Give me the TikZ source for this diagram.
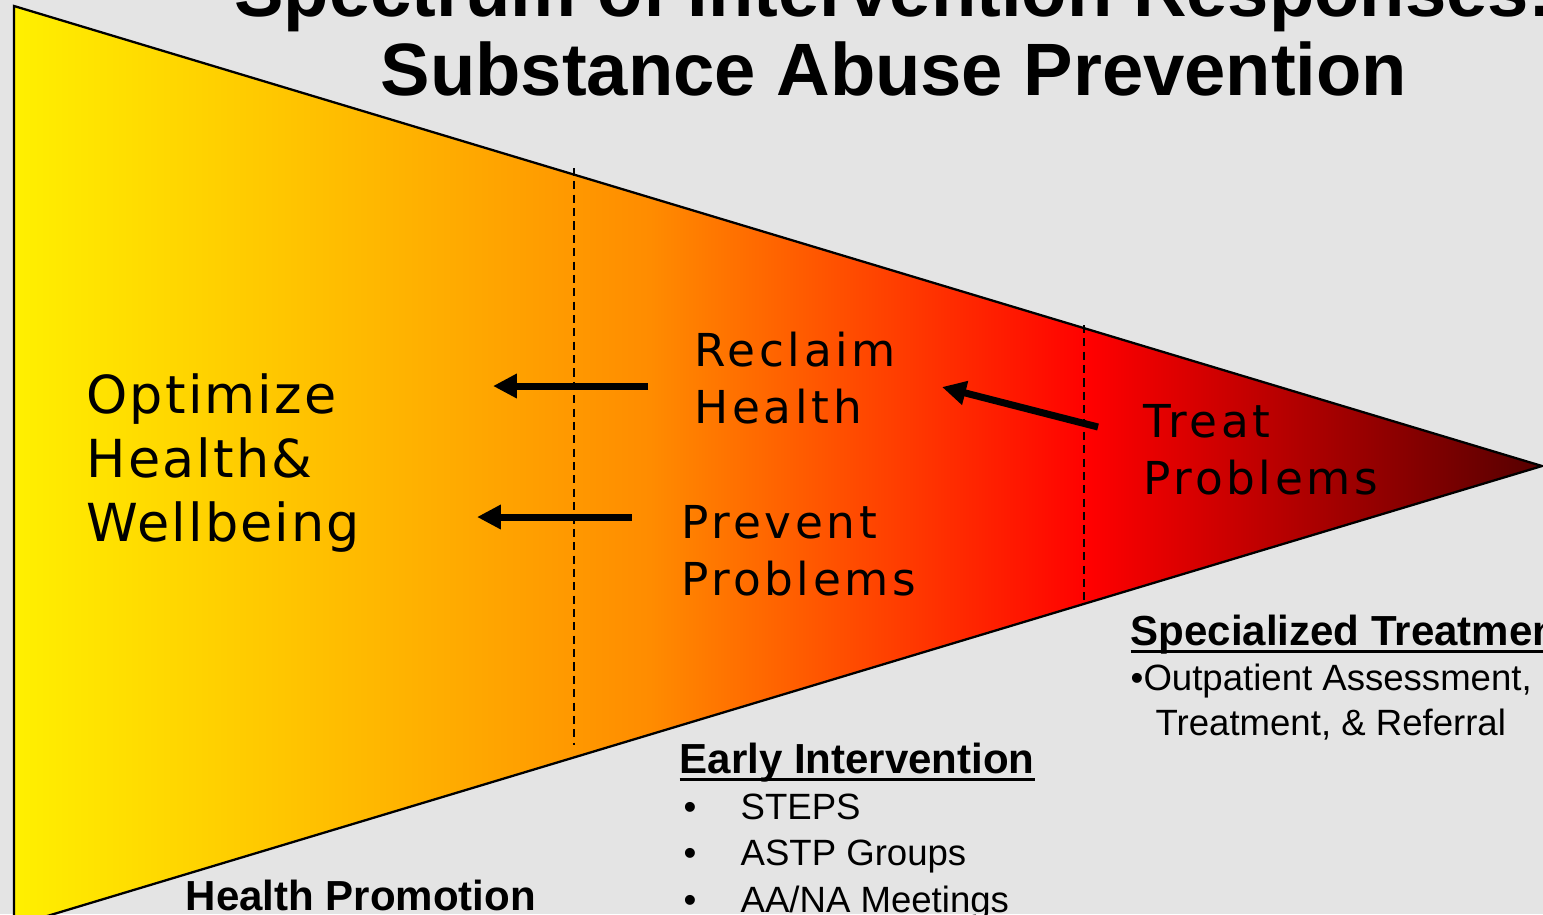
\documentclass[tikz,border=0pt]{standalone}
\usepackage{fontspec}
\setmainfont{Liberation Sans}
\newfontfamily\spanfont[LetterSpace=8]{DejaVu Sans}
\newfontfamily\spanfontleft[LetterSpace=4]{DejaVu Sans}
\usetikzlibrary{arrows.meta}

\definecolor{bggray}{RGB}{228,228,228}
\definecolor{spY}{RGB}{255,240,0}
\definecolor{spO}{RGB}{255,140,0}
\definecolor{spR}{RGB}{255,0,0}
\definecolor{spD}{RGB}{85,0,0}
\pgfdeclarehorizontalshading{spectrum}{100bp}{color(0bp)=(spY); color(25bp)=(spY); color(45.8bp)=(spO); color(60.2bp)=(spR); color(75bp)=(spD); color(100bp)=(spD)}

% underlined heading
\newcommand{\ulabel}[1]{\setbox0\hbox{#1}\rlap{\rule[-2.4pt]{\wd0}{0.9pt}}\box0}

\begin{document}
\begin{tikzpicture}[x=0.01cm,y=-0.01cm,
        every node/.style={inner sep=0pt,anchor=base west},
        zonetext/.style={align=left,font=\spanfont\fontsize{12.9}{16.2}\selectfont},
        headtext/.style={font=\bfseries\fontsize{11.95}{14}\selectfont},
        listtext/.style={align=left,font=\fontsize{10.4}{13.2}\selectfont},
        divider/.style={line width=0.5pt,dash pattern=on 2.3pt off 1.5pt},
        pointer/.style={line width=2pt,-{Triangle[length=6.8pt,width=6.6pt]}}]
        \useasboundingbox (0,0) rectangle (1543,914);
        \clip (0,0) rectangle (1543,914);
        \fill[bggray] (0,0) rectangle (1543,914);

        % the cone
        \draw[shading=spectrum,line width=0.65pt] (14,6) -- (1542,466) -- (14,926) -- cycle;
        \draw[divider] (574,168) -- (574,745);
        \draw[divider] (1084,325) -- (1084,605);

        \node[anchor=base,align=center,font=\bfseries\fontsize{21.1}{22.2}\selectfont] (T) at (894,95) {Spectrum of Intervention Responses:\\Substance Abuse Prevention};

        \node[align=left,font=\spanfontleft\fontsize{14.9}{18.2}\selectfont] (OH) at (86,541) {Optimize\\Health\&\\Wellbeing};
        \node[zonetext] (RH) at (694,423) {Reclaim\\Health};
        \node[zonetext] (PP) at (681,595) {Prevent\\Problems};
        \node[zonetext] (TP) at (1143,494) {Treat\\Problems};

        \coordinate (A1) at (648,386);
        \coordinate (B1) at (493,386);
        \coordinate (A2) at (632,517);
        \coordinate (B2) at (477,517);
        \coordinate (A3) at (1098,427);
        \coordinate (B3) at (942,387);
            \draw[pointer] (A1) -- (B1);
            \draw[pointer] (A2) -- (B2);
            \draw[pointer] (A3) -- (B3);

        \node[headtext] (HP) at (185,910) {Health Promotion};
        \node[headtext] (EI) at (679,773) {\ulabel{Early Intervention}};
        \node[listtext] (EIL) at (683,912) {\makebox[16.2pt][l]{\textbullet}STEPS\\\makebox[16.2pt][l]{\textbullet}ASTP Groups\\\makebox[16.2pt][l]{\textbullet}AA/NA Meetings};
        \node[headtext] (ST) at (1130,645) {\ulabel{Specialized Treatment}};
        \node[listtext,font=\fontsize{10.4}{12.8}\selectfont] (STL) at (1130,735) {\textbullet Outpatient Assessment,\\\hspace*{7.1pt}Treatment, \& Referral};

    \end{tikzpicture}
\end{document}
